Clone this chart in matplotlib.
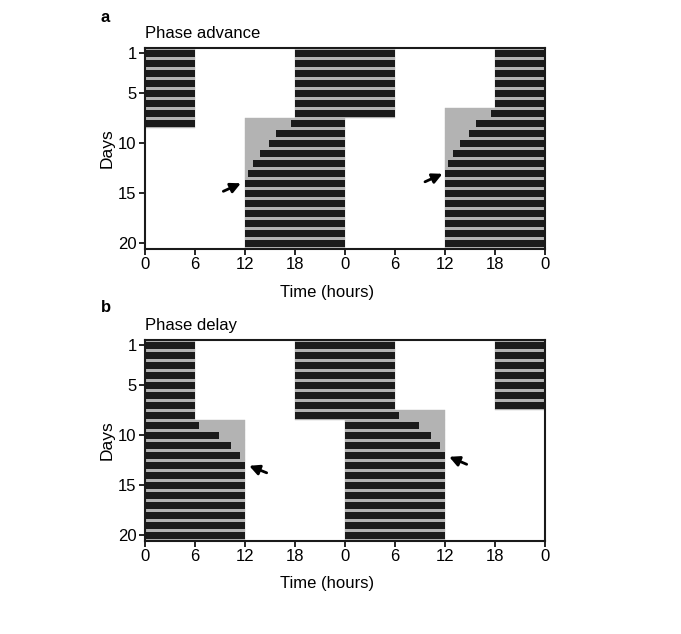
import matplotlib
matplotlib.use("Agg")
import matplotlib.pyplot as plt

plt.rcParams['font.family'] = ['Liberation Sans', 'DejaVu Sans']

# ---------------- data ----------------
rows = list(range(1, 21))                       # plotted rows (days)
xticks = [0, 6, 12, 18, 24, 30, 36, 42, 48]
xticklabels = ['0', '6', '12', '18', '0', '6', '12', '18', '0']
yticks = [1, 5, 10, 15, 20]

# Phase advance: activity bouts (day of onset, onset hour, offset hour)
adv_act_day = list(range(0, 22))
adv_act_on = [18] * 8 + [17.5, 15.7, 14.9, 13.85, 12.95, 12.35] + [12] * 8
adv_act_off = [30] * 8 + [24] * 14
# Phase advance: dark phase (grey)
adv_dark_day = list(range(0, 22))
adv_dark_on = [18] * 8 + [12] * 14
adv_dark_off = [30] * 8 + [24] * 14

# Phase delay: activity bouts
del_act_day = list(range(0, 9)) + list(range(10, 22))
del_act_on = [18] * 9 + [0] * 12
del_act_off = [30] * 8 + [30.5] + [8.9, 10.3, 11.35] + [12] * 9
# Phase delay: dark phase
del_dark_day = list(range(0, 22))
del_dark_on = [18] * 9 + [0] * 13
del_dark_off = [30] * 9 + [12] * 13

# arrows (tail x, tail y, head x, head y)
adv_arrows = [(9.4, 14.8, 11.5, 14.0), (33.6, 13.85, 35.7, 13.05)]
del_arrows = [(14.6, 13.75, 12.5, 13.05), (38.6, 12.9, 36.5, 12.15)]

BLACK = '#1b1b1b'
GREY = '#b3b3b3'


def segments(r, days, ons, offs):
    w0 = r * 24
    segs = []
    for d, on, off in zip(days, ons, offs):
        s = d * 24 + on - w0
        e = d * 24 + off - w0
        s, e = max(s, 0), min(e, 48)
        if e > s:
            segs.append((s, e - s))
    return segs


def draw(ax, act, dark, arrows, title, xlabel_y):
    for r in rows:
        g = segments(r, *dark)
        if g:
            ax.broken_barh(g, (r - 0.5, 1.0), facecolors=GREY,
                           edgecolors=GREY, linewidth=0.3)
    for r in rows:
        b = segments(r, *act)
        if b:
            ax.broken_barh(b, (r - 0.35, 0.7), facecolors=BLACK,
                           edgecolors='none', linewidth=0)
    for tx, ty, hx, hy in arrows:
        ax.annotate('', xy=(hx, hy), xytext=(tx, ty),
                    arrowprops=dict(arrowstyle='-|>', lw=2.0, color='black',
                                    mutation_scale=15, shrinkA=0, shrinkB=0))
    ax.set_xlim(0, 48)
    ax.set_ylim(20.54, 0.5)
    ax.set_xticks(xticks)
    ax.set_xticklabels(xticklabels)
    ax.set_yticks(yticks)
    ax.tick_params(direction='out', length=4, width=1.2, labelsize=12,
                   pad=2, color='black')
    for s in ax.spines.values():
        s.set_linewidth(1.5)
        s.set_color('#1a1a1a')
    ax.set_ylabel('Days', fontsize=12.5, labelpad=2)
    ax.yaxis.set_label_coords(-0.077, 0.5)
    ax.set_xlabel('Time (hours)', fontsize=12)
    ax.xaxis.set_label_coords(0.454, xlabel_y)
    ax.text(0.0, 1.035, title, transform=ax.transAxes, fontsize=12,
            ha='left', va='bottom')


fig = plt.figure(figsize=(6.81, 6.34), dpi=100)
L, W, H = 145 / 681, 400 / 681, 200.4 / 634
ax1 = fig.add_axes([L, 1 - 248.7 / 634, W, H])
ax2 = fig.add_axes([L, 1 - 540.7 / 634, W, H])

draw(ax1, (adv_act_day, adv_act_on, adv_act_off),
     (adv_dark_day, adv_dark_on, adv_dark_off), adv_arrows,
     'Phase advance', -0.18)
draw(ax2, (del_act_day, del_act_on, del_act_off),
     (del_dark_day, del_dark_on, del_dark_off), del_arrows,
     'Phase delay', -0.175)

fig.text(101 / 681, 1 - 18 / 634, 'a', fontsize=12, fontweight='bold',
         ha='left', va='center')
fig.text(101 / 681, 1 - 307 / 634, 'b', fontsize=12, fontweight='bold',
         ha='left', va='center')

fig.savefig('out.png', dpi=100, facecolor='white')
